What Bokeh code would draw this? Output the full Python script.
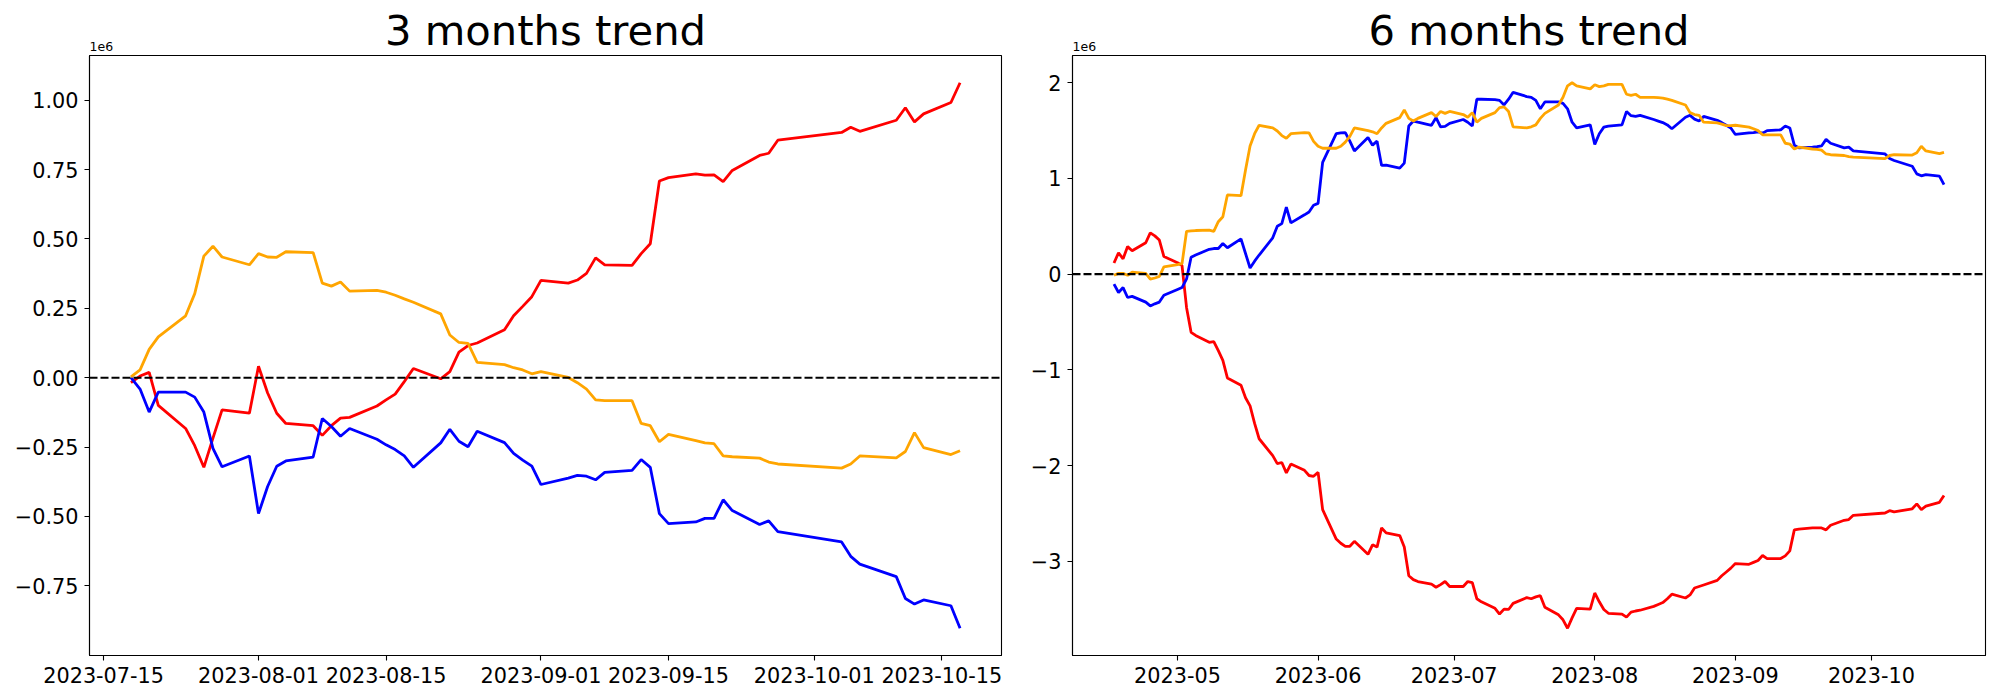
import numpy as np
import pandas as pd
from bokeh.plotting import figure
from bokeh.layouts import row
from bokeh.models import Range1d, FixedTicker, CustomJSTickFormatter, Span, Title
from bokeh.embed import file_html
from bokeh.resources import INLINE

FONT = "DejaVu Sans"

# ---------------- data ----------------
missing_days = ["2023-09-28", "2023-09-29", "2023-10-02", "2023-10-03", "2023-10-09"]
dates_3m = pd.bdate_range("2023-07-18", "2023-10-17").difference(pd.to_datetime(missing_days))
dates_6m = pd.bdate_range("2023-04-17", "2023-10-17").difference(pd.to_datetime(missing_days))

# values in units of 1e6
red_3m = [-0.018, 0.006, 0.019, -0.100, -0.183, -0.245, -0.323, -0.218, -0.116, -0.128,
          0.041, -0.055, -0.128, -0.165, -0.173, -0.208, -0.173, -0.146, -0.143, -0.102, -0.080, -0.059,
          -0.014, 0.033, -0.004, 0.022, 0.092, 0.116, 0.125, 0.173, 0.223, 0.257, 0.292,
          0.351, 0.341, 0.352, 0.376, 0.432, 0.407, 0.405, 0.447, 0.483, 0.709, 0.721, 0.735, 0.730,
          0.731, 0.707, 0.747, 0.801, 0.809, 0.856,
          0.884, 0.903, 0.888, 0.928, 0.973, 0.922, 0.951, 0.992, 1.063]
blue_3m = [0.000, -0.041, -0.124, -0.052, -0.052, -0.070, -0.124, -0.255, -0.321, -0.282,
           -0.490, -0.392, -0.319, -0.300, -0.286, -0.147, -0.176, -0.211, -0.183, -0.222, -0.242, -0.259,
           -0.282, -0.323, -0.235, -0.186, -0.229, -0.249, -0.193, -0.234, -0.273, -0.297, -0.319,
           -0.385, -0.362, -0.352, -0.355, -0.368, -0.341, -0.334, -0.295, -0.323, -0.490, -0.526, -0.520,
           -0.507, -0.507, -0.440, -0.479, -0.529, -0.516, -0.555,
           -0.592, -0.644, -0.672, -0.717, -0.796, -0.816, -0.801, -0.822, -0.903]
orange_3m = [0.003, 0.028, 0.102, 0.147, 0.223, 0.303, 0.438, 0.474, 0.435, 0.407,
             0.447, 0.435, 0.434, 0.454, 0.451, 0.341, 0.330, 0.345, 0.312, 0.315, 0.308, 0.297,
             0.284, 0.272, 0.230, 0.154, 0.127, 0.124, 0.055, 0.047, 0.036, 0.028, 0.014,
             0.022, 0.001, -0.018, -0.041, -0.080, -0.083, -0.083, -0.165, -0.173, -0.231, -0.204, -0.227,
             -0.235, -0.238, -0.282, -0.285, -0.290, -0.304, -0.311,
             -0.326, -0.311, -0.282, -0.289, -0.266, -0.198, -0.252, -0.277, -0.263]

red_6m = [0.116, 0.224, 0.160, 0.288, 0.244, 0.328, 0.432, 0.400, 0.356, 0.184,
          0.120, 0.090, -0.350, -0.608, -0.640, -0.712, -0.704, -0.800, -0.900, -1.084, -1.160, -1.292,
          -1.376, -1.560, -1.720, -1.896, -1.980, -1.968, -2.076, -1.984, -2.050, -2.104, -2.112,
          -2.072, -2.460, -2.768, -2.812, -2.844, -2.844, -2.792, -2.928, -2.828, -2.852, -2.652, -2.704,
          -2.732, -2.852, -3.152, -3.192, -3.212, -3.240, -3.272, -3.244, -3.212, -3.264,
          -3.264, -3.212, -3.224, -3.392, -3.424, -3.492, -3.552, -3.500, -3.504, -3.440, -3.380, -3.392,
          -3.372, -3.360, -3.480, -3.560, -3.612, -3.700, -3.592, -3.492, -3.500,
          -3.332, -3.424, -3.504, -3.544, -3.552, -3.584, -3.532, -3.520, -3.512, -3.472, -3.452, -3.432,
          -3.392, -3.344, -3.384, -3.352, -3.280, -3.264, -3.248, -3.200, -3.152, -3.112, -3.072,
          -3.024, -3.032, -3.012, -2.992, -2.940, -2.972, -2.972, -2.944, -2.892, -2.672, -2.664, -2.652,
          -2.652, -2.652, -2.672, -2.624, -2.572, -2.564, -2.520,
          -2.496, -2.472, -2.484, -2.452, -2.400, -2.460, -2.424, -2.384, -2.312]
blue_6m = [-0.104, -0.192, -0.140, -0.244, -0.232, -0.292, -0.332, -0.310, -0.292, -0.220,
           -0.160, -0.140, -0.050, 0.176, 0.200, 0.260, 0.268, 0.268, 0.320, 0.276, 0.368, 0.216,
           0.064, 0.136, 0.200, 0.380, 0.500, 0.528, 0.700, 0.536, 0.620, 0.650, 0.720,
           0.740, 1.168, 1.468, 1.476, 1.480, 1.390, 1.288, 1.428, 1.348, 1.390, 1.136, 1.140,
           1.108, 1.160, 1.548, 1.600, 1.588, 1.556, 1.636, 1.540, 1.544, 1.576,
           1.616, 1.588, 1.548, 1.828, 1.828, 1.824, 1.816, 1.768, 1.828, 1.900, 1.856, 1.848,
           1.816, 1.728, 1.800, 1.800, 1.784, 1.728, 1.588, 1.528, 1.560,
           1.356, 1.468, 1.536, 1.548, 1.560, 1.700, 1.656, 1.648, 1.660, 1.616, 1.600, 1.584,
           1.560, 1.520, 1.640, 1.660, 1.620, 1.600, 1.648, 1.608, 1.584, 1.556, 1.528,
           1.460, 1.476, 1.480, 1.488, 1.472, 1.500, 1.508, 1.548, 1.528, 1.348, 1.320, 1.328,
           1.332, 1.340, 1.408, 1.368, 1.320, 1.328, 1.288,
           1.256, 1.208, 1.188, 1.128, 1.048, 1.028, 1.040, 1.024, 0.936]
orange_6m = [-0.012, 0.008, 0.008, -0.012, 0.020, 0.008, -0.052, -0.040, -0.024, 0.076,
             0.100, 0.110, 0.448, 0.452, 0.456, 0.460, 0.448, 0.548, 0.600, 0.828, 0.820, 1.088,
             1.340, 1.468, 1.556, 1.528, 1.496, 1.448, 1.420, 1.468, 1.480, 1.476, 1.388,
             1.336, 1.316, 1.316, 1.336, 1.380, 1.440, 1.528, 1.500, 1.488, 1.468, 1.528, 1.576,
             1.636, 1.716, 1.628, 1.600, 1.628, 1.688, 1.648, 1.700, 1.680, 1.700,
             1.668, 1.640, 1.688, 1.588, 1.628, 1.688, 1.740, 1.748, 1.700, 1.540, 1.528, 1.540,
             1.560, 1.628, 1.680, 1.768, 1.848, 1.968, 2.000, 1.968, 1.936,
             1.980, 1.960, 1.968, 1.984, 1.984, 1.880, 1.868, 1.880, 1.848, 1.848, 1.844, 1.840,
             1.828, 1.816, 1.768, 1.688, 1.668, 1.660, 1.588, 1.580, 1.568, 1.552, 1.552,
             1.556, 1.536, 1.520, 1.500, 1.456, 1.456, 1.456, 1.368, 1.360, 1.308, 1.328, 1.308,
             1.304, 1.296, 1.256, 1.248, 1.240, 1.228, 1.224,
             1.208, 1.240, 1.248, 1.244, 1.268, 1.336, 1.288, 1.260, 1.272]

xticks_3m = ["2023-07-15", "2023-08-01", "2023-08-15", "2023-09-01", "2023-09-15", "2023-10-01", "2023-10-15"]
xticks_6m = ["2023-05-01", "2023-06-01", "2023-07-01", "2023-08-01", "2023-09-01", "2023-10-01"]
yticks_3m = [-0.75, -0.5, -0.25, 0.0, 0.25, 0.5, 0.75, 1.0]
yticks_6m = [-3, -2, -1, 0, 1, 2]

SCALE = 1e6


def to_ms(seq):
    return np.array([pd.Timestamp(d).timestamp() * 1000.0 for d in seq])


FMT_YMD = CustomJSTickFormatter(code="""
const d = new Date(tick);
const m = ('0' + (d.getUTCMonth() + 1)).slice(-2);
const dd = ('0' + d.getUTCDate()).slice(-2);
return d.getUTCFullYear() + '-' + m + '-' + dd;
""")
FMT_YM = CustomJSTickFormatter(code="""
const d = new Date(tick);
const m = ('0' + (d.getUTCMonth() + 1)).slice(-2);
return d.getUTCFullYear() + '-' + m;
""")


def yfmt(decimals):
    return CustomJSTickFormatter(code=f"""
const v = tick / {SCALE};
let s = Math.abs(v) < 1e-12 ? (0).toFixed({decimals}) : v.toFixed({decimals});
return s.replace('-', '\\u2212');
""")


def make_fig(title, dates, series, xticks, xfmt, yticks, ydec, border_left, frame_w):
    xs = to_ms(dates)
    x0, x1 = xs.min(), xs.max()
    xpad = 0.05 * (x1 - x0)
    vals = np.concatenate([np.asarray(v) for v, _ in series]) * SCALE
    y0, y1 = vals.min(), vals.max()
    ypad = 0.05 * (y1 - y0)
    p = figure(frame_width=frame_w, frame_height=600, x_axis_type="datetime",
               output_backend="svg", toolbar_location=None,
               x_range=Range1d(x0 - xpad, x1 + xpad), y_range=Range1d(y0 - ypad, y1 + ypad),
               min_border_left=border_left, min_border_right=7, min_border_top=55, min_border_bottom=37)
    # offset text "1e6" sits right above the frame (closest panel), main title above it
    p.add_layout(Title(text="1e6", align="left", text_font=FONT, text_font_size="12.5px",
                       text_font_style="normal", text_color="black", standoff=10, offset=0), "above")
    p.title.text = title
    p.title.text_font = FONT
    p.title.text_font_size = "41.7px"
    p.title.text_font_style = "normal"
    p.title.align = "center"
    p.title.text_color = "black"
    p.title.standoff = -40

    p.add_layout(Span(location=0, dimension="width", line_color="black",
                      line_dash="8 3", line_width=2.1))
    for v, color in series:
        p.line(xs, np.asarray(v) * SCALE, line_color=color, line_width=2.8)

    p.xgrid.visible = False
    p.ygrid.visible = False
    p.outline_line_color = "black"
    p.outline_line_width = 1.1
    p.outline_line_alpha = 1.0
    p.background_fill_color = "white"
    p.border_fill_color = "white"

    p.xaxis.ticker = FixedTicker(ticks=list(to_ms(xticks)))
    p.xaxis.formatter = xfmt
    p.yaxis.ticker = FixedTicker(ticks=[t * SCALE for t in yticks])
    p.yaxis.formatter = yfmt(ydec)
    for ax in (p.xaxis[0], p.yaxis[0]):
        ax.major_label_text_font = FONT
        ax.major_label_text_font_size = "20.8px"
        ax.major_label_text_color = "black"
        ax.major_tick_out = 5
        ax.major_tick_in = 0
        ax.minor_tick_out = 0
        ax.minor_tick_in = 0
        ax.major_tick_line_color = "black"
        ax.major_tick_line_width = 1.1
        ax.axis_line_color = "black"
        ax.axis_line_width = 1.1
        ax.major_label_standoff = 6
    return p


p1 = make_fig("3 months trend", dates_3m,
              [(red_3m, "red"), (blue_3m, "blue"), (orange_3m, "orange")],
              xticks_3m, FMT_YMD, yticks_3m, 2, 89, 912)
p2 = make_fig("6 months trend", dates_6m,
              [(red_6m, "red"), (blue_6m, "blue"), (orange_6m, "orange")],
              xticks_6m, FMT_YM, yticks_6m, 0, 64, 913)

layout = row(p1, p2, spacing=0)
open("out.html", "w").write(file_html(layout, INLINE))
